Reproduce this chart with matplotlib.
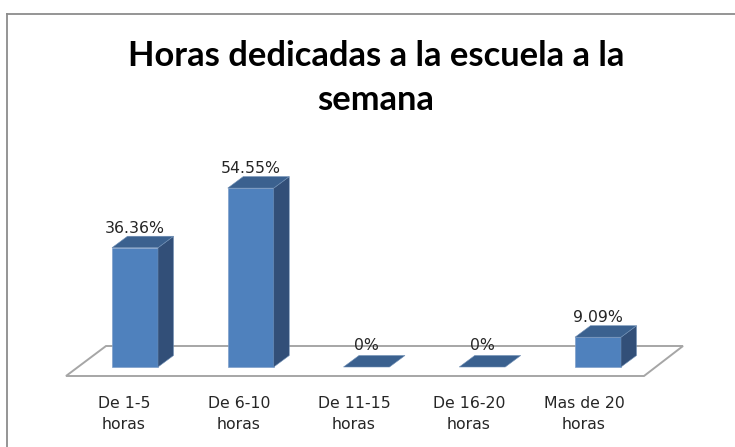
import matplotlib
matplotlib.use("Agg")
import matplotlib.pyplot as plt
from matplotlib.patches import Polygon
from matplotlib.lines import Line2D

title = "Horas dedicadas a la escuela a la\nsemana"
categories = ["De 1-5\nhoras", "De 6-10\nhoras", "De 11-15\nhoras", "De 16-20\nhoras", "Mas de 20\nhoras"]
values = [36.36, 54.55, 0, 0, 9.09]
value_labels = ["36.36%", "54.55%", "0%", "0%", "9.09%"]

W, H = 735, 447
X0, XS = 135.0, 115.75      # pixel of first category, pixels per category
Y0, YS = 367.0, 3.28        # pixel of value 0, pixels per percent

fig = plt.figure(figsize=(W / 100, H / 100), dpi=100, facecolor="white")
ax = fig.add_axes([0, 0, 1, 1])
ax.set_xlim(-X0 / XS, (W - X0) / XS)
ax.set_ylim((Y0 - H) / YS, Y0 / YS)
ax.axis("off")

bar_w = 46 / XS
dx, dy = 15.5 / XS, 11.5 / YS

# floor
fl = [(-69 / XS, -9 / YS), (-29 / XS, 21 / YS), (548 / XS, 21 / YS), (509 / XS, -9 / YS)]
ax.add_patch(Polygon(fl, closed=True, facecolor="white", edgecolor="#a6a6a6", lw=1.4, zorder=1))

FRONT, SIDE, TOP = "#4f81bd", "#324f78", "#3b618f"
for i, (v, lab, cat) in enumerate(zip(values, value_labels, categories)):
    l, r = i - bar_w / 2, i + bar_w / 2
    if v > 0:
        ax.bar(i, v, width=bar_w, color=FRONT, edgecolor="#7f9fc9", lw=0.5, zorder=3)
        ax.add_patch(Polygon([(r, 0), (r + dx, dy), (r + dx, v + dy), (r, v)], closed=True,
                             facecolor=SIDE, edgecolor="#6f8fb5", lw=0.4, zorder=3))
    ax.add_patch(Polygon([(l, v), (r, v), (r + dx, v + dy), (l + dx, v + dy)], closed=True,
                         facecolor=TOP, edgecolor="#6f8fb5", lw=0.4, zorder=3))
    ax.annotate(lab, (i, v + dy), xytext=(0, 0.5 if v > 0 else 2), textcoords="offset points",
                ha="center", va="bottom", fontsize=11.3, color="#262626",
                family="DejaVu Sans", zorder=4)
    ax.text((124 + 115 * i - X0) / XS, (Y0 - 414) / YS, cat, ha="center", va="center", fontsize=11.3,
            color="#262626", family="DejaVu Sans", linespacing=1.5)

fig.text(376 / W, 1 - 78 / H, title, ha="center", va="center", fontsize=24.8, fontweight="bold",
         family="Lato", color="black", linespacing=1.5)

fig.add_artist(Line2D([6.5 / W, 6.5 / W], [0, 1 - 13.5 / H], color="#8c8c8c", lw=1.3))
fig.add_artist(Line2D([6.5 / W, 1], [1 - 13.5 / H, 1 - 13.5 / H], color="#8c8c8c", lw=1.3))

fig.savefig("out.png", dpi=100, facecolor="white")
